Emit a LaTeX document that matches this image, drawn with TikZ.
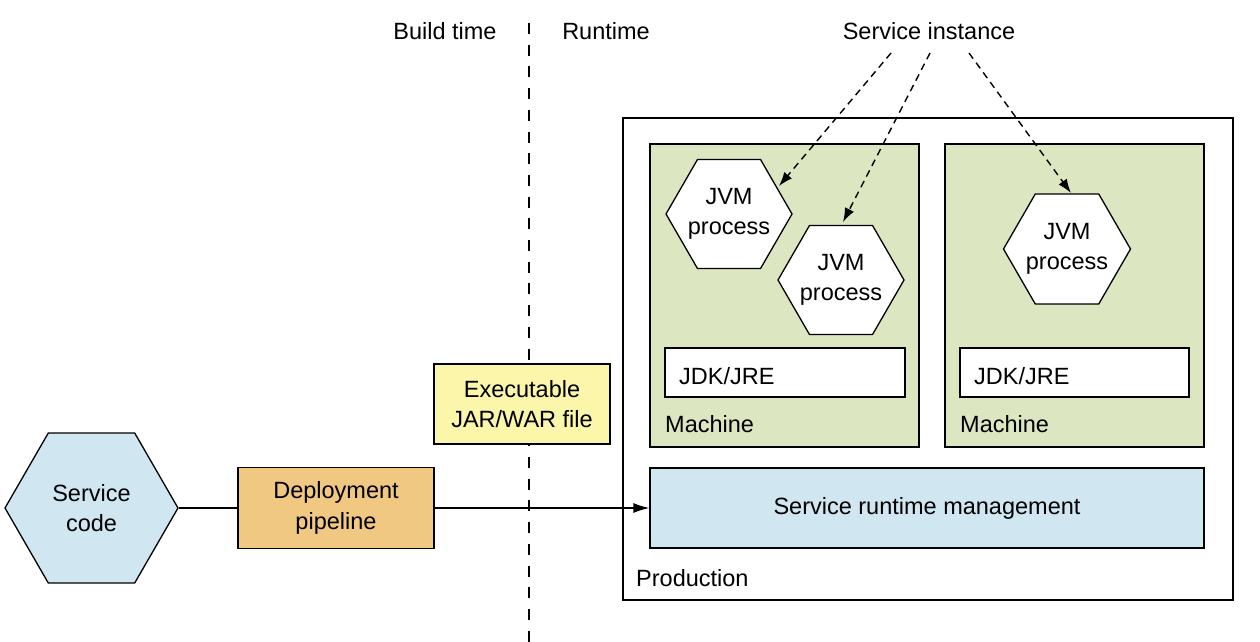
\documentclass[tikz,border=0pt]{standalone}
\usepackage{fontspec}
\setmainfont{Liberation Sans}
\usetikzlibrary{shapes.geometric,arrows.meta,calc}
\definecolor{machinegreen}{HTML}{DCE6C0}
\definecolor{mgmtblue}{HTML}{D0E6F0}
\definecolor{pipeorange}{HTML}{F0C882}
\definecolor{jaryellow}{HTML}{FBF6AA}
\tikzset{
  every node/.style={font=\fontsize{23.5}{30.5}\selectfont},
  box/.style={draw=black, line width=1.3pt, inner sep=0pt},
  hexa/.style={draw=black, line width=1.3pt, regular polygon, regular polygon sides=6, inner sep=0pt, minimum size=#1},
  lbl/.style={inner sep=0pt, align=center},
  dasharrow/.style={line width=1.4pt, dash pattern=on 7pt off 5pt, -{Latex[length=14pt,width=10pt]}},
  solidarrow/.style={line width=1.3pt, -{Latex[length=16pt,width=10pt]}},
}
\begin{document}
\begin{tikzpicture}[x=1pt,y=-1pt]
\useasboundingbox (0,0) rectangle (1260,642);
% divider
\coordinate (dtop) at (529,23);
\coordinate (dbot) at (529,642);
\draw[line width=1.3pt, dash pattern=on 11pt off 10.7pt] (dtop) -- (dbot);
\node[lbl] (bt) at (445,31) {Build time};
\node[lbl] (rt) at (606,31) {Runtime};
\node[lbl] (si) at (929,31) {Service instance};
% production
\node[box, minimum width=610pt, minimum height=482pt] (prod) at (928,359) {};
\node[lbl, anchor=west] (prodl) at (636,578) {Production};
% machines
\node[box, fill=machinegreen, minimum width=269pt, minimum height=303pt] (m1) at (784.5,295.5) {};
\node[box, fill=machinegreen, minimum width=259pt, minimum height=303pt] (m2) at (1074.5,295.5) {};
\node[lbl, anchor=west] (m1l) at (665,424) {Machine};
\node[lbl, anchor=west] (m2l) at (960,424) {Machine};
% JDK
\node[box, fill=white, minimum width=240pt, minimum height=49pt] (j1) at (785,372.5) {};
\node[lbl, anchor=west] (j1l) at (679,376) {JDK/JRE};
\node[box, fill=white, minimum width=229pt, minimum height=49pt] (j2) at (1074.5,372.5) {};
\node[lbl, anchor=west] (j2l) at (974,376) {JDK/JRE};
% JVM hexagons
\node[hexa=126pt, fill=white, label={[lbl]center:JVM\\process}] (h1) at (729,214) {};
\node[hexa=126pt, fill=white, label={[lbl]center:JVM\\process}] (h2) at (841,280) {};
\node[hexa=127pt, fill=white, label={[lbl]center:JVM\\process}] (h3) at (1067,249) {};
% runtime mgmt
\node[box, fill=mgmtblue, minimum width=554pt, minimum height=80pt] (rm) at (927,508) {Service runtime management};
% left part
\node[hexa=173pt, fill=mgmtblue, label={[lbl]center:Service\\code}] (sc) at (91.5,508) {};
\node[box, fill=pipeorange, minimum width=196pt, minimum height=81pt, align=center] (dp) at (336,508) {Deployment\\pipeline};
\node[box, fill=jaryellow, minimum width=176pt, minimum height=80pt, align=center] (jar) at (522,404) {Executable\\JAR/WAR file};
% connectors
\draw[line width=1.3pt] (sc.east) -- (sc.east -| dp.west);
\draw[solidarrow] (dp.east) -- (dp.east -| rm.west);
% dashed arrows
\coordinate (s1) at (891,53);
\coordinate (s2) at (930,53);
\coordinate (s3) at (969,53);
\coordinate (t1) at ($(h1)+(50,-28)$);
\coordinate (t2) at ($(h2)+(2,-58)$);
\coordinate (t3) at ($(h3)+(4,-56)$);
\draw[dasharrow] (s1) -- (t1);
\draw[dasharrow] (s2) -- (t2);
\draw[dasharrow] (s3) -- (t3);
\end{tikzpicture}
\end{document}
